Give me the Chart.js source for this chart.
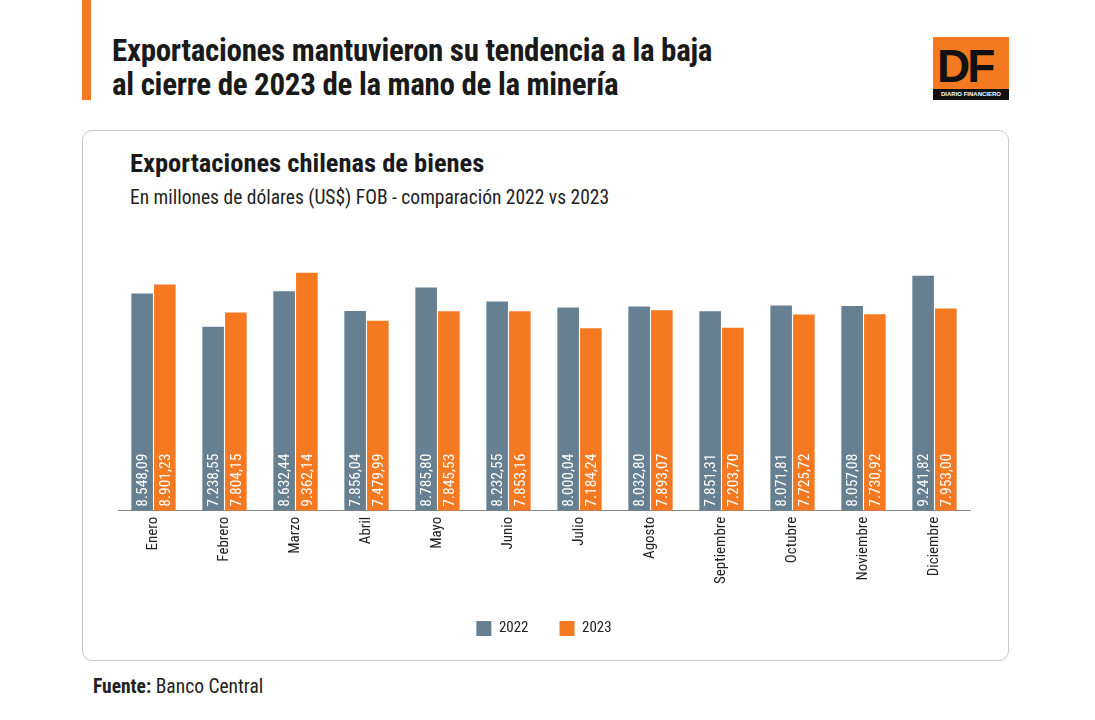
<!DOCTYPE html>
<html><head><meta charset="utf-8">
<script src="https://cdn.jsdelivr.net/npm/chart.js@4.4.0/dist/chart.umd.min.js"></script>
<style>
body{margin:0;width:1095px;height:720px;background:#fff;font-family:"Liberation Sans Narrow","Roboto Condensed",Roboto,sans-serif;position:relative;overflow:hidden}
#bar{position:absolute;left:82px;top:0;width:9px;height:100px;background:#f47920}
#t{position:absolute;left:112px;top:34px;font-size:31px;font-weight:bold;line-height:34px;color:#1a1a1a;letter-spacing:-0.3px}
#logo{position:absolute;left:933px;top:37px;width:76px;height:63px;background:#f47920}
#logo .df{position:absolute;left:4px;top:2px;font:bold 46px "Liberation Sans",Arial;color:#111;letter-spacing:-3px}
#logo .s{position:absolute;left:0;bottom:0;width:76px;height:11px;background:#111;color:#fff;font:bold 6px Arial;line-height:11px;text-align:center}
#card{position:absolute;left:82px;top:130px;width:925px;height:529px;border:1px solid #c8c8c8;border-radius:10px}
#ct{position:absolute;left:130px;top:147px;font-size:26.5px;font-weight:bold;color:#1a1a1a}
#cs{position:absolute;left:130px;top:186px;font-size:19.5px;color:#222}
#src{position:absolute;left:93px;top:675px;font-size:19.5px;color:#222}
#wrap{position:absolute;left:100px;top:220px;width:890px;height:426px}
</style></head><body>
<div id="bar"></div>
<div id="t">Exportaciones mantuvieron su tendencia a la baja<br>al cierre de 2023 de la mano de la minería</div>
<div id="logo"><div class="df">DF</div><div class="s">DIARIO FINANCIERO</div></div>
<div id="card"></div>
<div id="ct">Exportaciones chilenas de bienes</div>
<div id="cs">En millones de dólares (US$) FOB - comparación 2022 vs 2023</div>
<div id="src"><b>Fuente:</b> Banco Central</div>
<div id="wrap"><canvas id="c"></canvas></div>
<script>
const categories=["Enero","Febrero","Marzo","Abril","Mayo","Junio","Julio","Agosto","Septiembre","Octubre","Noviembre","Diciembre"];
const values2022=[8548.09,7238.55,8632.44,7856.04,8785.80,8232.55,8000.04,8032.80,7851.31,8071.81,8057.08,9241.82];
const values2023=[8901.23,7804.15,9362.14,7479.99,7845.53,7853.16,7184.24,7893.07,7203.70,7725.72,7730.92,7953.00];
const seriesNames=["2022","2023"];
const FONT='"Liberation Sans Narrow","Roboto Condensed",Roboto,sans-serif';
const fmt=v=>v.toLocaleString('de-DE',{minimumFractionDigits:2,maximumFractionDigits:2});
const inLabels={id:'inl',afterDatasetsDraw(ch){const ctx=ch.ctx;ch.data.datasets.forEach((ds,i)=>{ch.getDatasetMeta(i).data.forEach((b,j)=>{ctx.save();ctx.translate(b.x,b.base-4);ctx.rotate(-Math.PI/2);ctx.fillStyle='#fff';ctx.font='15.5px '+FONT;ctx.textAlign='left';ctx.textBaseline='middle';ctx.fillText(fmt(ds.data[j]),0,1);ctx.restore();});});}};
new Chart(document.getElementById('c'),{type:'bar',
data:{labels:categories,datasets:[
{label:seriesNames[0],data:values2022,backgroundColor:'#667f91'},
{label:seriesNames[1],data:values2023,backgroundColor:'#f47920'}]},
options:{responsive:true,maintainAspectRatio:false,animation:false,
layout:{padding:{left:18,right:20,top:0,bottom:0}},
plugins:{legend:{position:'bottom',labels:{boxWidth:15,boxHeight:15,font:{family:FONT,size:15},color:'#222',padding:31}},tooltip:{enabled:false}},
scales:{y:{display:false,min:0,max:11440},
x:{grid:{display:false,drawTicks:false},border:{color:'#888'},ticks:{minRotation:90,maxRotation:90,color:'#222',font:{family:FONT,size:15},padding:6}}},
datasets:{bar:{categoryPercentage:0.64,barPercentage:0.95}}},
plugins:[inLabels]});
</script></body></html>
